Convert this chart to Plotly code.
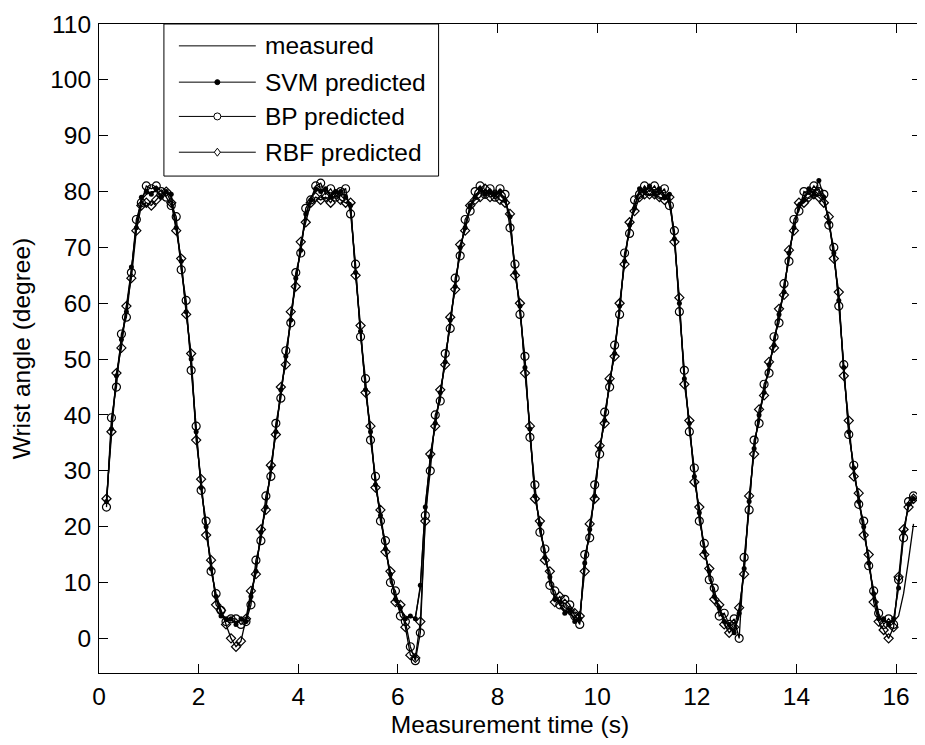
import plotly.graph_objects as go

# sampled wrist angle, one value every 0.1 s
time_s = [
    0.15, 0.25, 0.35, 0.45, 0.55, 0.65, 0.75, 0.85, 0.95, 1.05,
    1.15, 1.25, 1.35, 1.45, 1.55, 1.65, 1.75, 1.85, 1.95, 2.05,
    2.15, 2.25, 2.35, 2.45, 2.55, 2.65, 2.75, 2.85, 2.95, 3.05,
    3.15, 3.25, 3.35, 3.45, 3.55, 3.65, 3.75, 3.85, 3.95, 4.05,
    4.15, 4.25, 4.35, 4.45, 4.55, 4.65, 4.75, 4.85, 4.95, 5.05,
    5.15, 5.25, 5.35, 5.45, 5.55, 5.65, 5.75, 5.85, 5.95, 6.05,
    6.15, 6.25, 6.35, 6.45, 6.55, 6.65, 6.75, 6.85, 6.95, 7.05,
    7.15, 7.25, 7.35, 7.45, 7.55, 7.65, 7.75, 7.85, 7.95, 8.05,
    8.15, 8.25, 8.35, 8.45, 8.55, 8.65, 8.75, 8.85, 8.95, 9.05,
    9.15, 9.25, 9.35, 9.45, 9.55, 9.65, 9.75, 9.85, 9.95, 10.05,
    10.15, 10.25, 10.35, 10.45, 10.55, 10.65, 10.75, 10.85, 10.95, 11.05,
    11.15, 11.25, 11.35, 11.45, 11.55, 11.65, 11.75, 11.85, 11.95, 12.05,
    12.15, 12.25, 12.35, 12.45, 12.55, 12.65, 12.75, 12.85, 12.95, 13.05,
    13.15, 13.25, 13.35, 13.45, 13.55, 13.65, 13.75, 13.85, 13.95, 14.05,
    14.15, 14.25, 14.35, 14.45, 14.55, 14.65, 14.75, 14.85, 14.95, 15.05,
    15.15, 15.25, 15.35, 15.45, 15.55, 15.65, 15.75, 15.85, 15.95, 16.05,
    16.15, 16.25, 16.35,
]

measured = [
    24, 38, 46.5, 53, 59, 66, 74, 78.5, 79.5, 80,
    80, 79.5, 80, 79, 74, 67, 59, 49.5, 36.5, 27.5,
    19.5, 13, 7, 4.5, 3.5, 3.2, 3, 3.2, 3.5, 7,
    12.5, 18.5, 24, 30, 37.5, 44, 50, 57.5, 64, 70,
    75.5, 79, 80, 80.5, 80, 79.5, 80, 79.5, 79.5, 77,
    66, 54.5, 45, 36.5, 28, 21.5, 16.5, 11, 7.5, 5,
    4, 3.7, 3.8, 9, 24, 32, 39, 43.5, 50, 56.5,
    63.5, 69.5, 74, 77, 79.5, 80, 80, 79.5, 80, 79.5,
    79, 75, 66, 59, 49, 37, 26, 20, 15, 10.5,
    7.5, 6, 5, 4.5, 3.5, 3, 14, 19, 26, 33.5,
    39.5, 45.5, 51.5, 59, 68, 73.5, 77.5, 80, 80.5, 80.5,
    80, 80, 79.5, 79, 72, 59.5, 47, 38, 29.5, 22,
    16, 11.5, 8, 5, 3.5, 2, 1.5, 4, 13, 24,
    34.5, 39.5, 44.5, 48.5, 53, 57.5, 62.5, 68.5, 74, 77,
    79, 80, 80, 80.5, 78.5, 75, 68.5, 61, 48, 37.5,
    30, 25, 19.5, 14, 7.5, 4, 3, 3, 3, 4,
    8, 14, 20.5,
]

svm_pred = [
    24.5, 37.5, 47, 53.5, 58.5, 66.5, 73.5, 79, 80, 79.5,
    80.5, 79, 80, 79.5, 73.5, 67.5, 58.5, 50, 37, 27,
    20, 12.5, 7.5, 4, 3.5, 3.5, 2.5, 3.5, 3, 7.5,
    12, 19, 23.5, 30.5, 37, 44.5, 50.5, 57, 64.5, 69.5,
    76, 78.5, 80.5, 80, 80.5, 79, 80, 80, 79, 77.5,
    65.5, 55, 44.5, 37, 27.5, 22, 16, 11.5, 7, 5.5,
    3.5, 4, 3.5, 9.5, 23.5, 32.5, 38.5, 44, 49.5, 57,
    63, 70, 73.5, 77.5, 79, 80.5, 79.5, 80, 79.5, 80,
    78.5, 75.5, 65.5, 59.5, 48.5, 37.5, 25.5, 20.5, 14.5, 11,
    7, 6.5, 4.5, 5, 3, 3.5, 13.5, 19.5, 25.5, 34,
    39, 46, 51, 59.5, 67.5, 74, 77, 80.5, 80, 81,
    79.5, 80.5, 79, 79.5, 71.5, 60, 46.5, 38.5, 29, 22.5,
    15.5, 12, 7.5, 5.5, 3, 2.5, 1, 4.5, 12.5, 24.5,
    34, 40, 44, 49, 52.5, 58, 62, 69, 73.5, 77.5,
    78.5, 80.5, 79.5, 82, 79, 74.5, 69, 60.5, 48.5, 37,
    30.5, 24.5, 20, 13.5, 8, 3.5, 3.5, 2.5, 3.5, 9,
    19, 24, 25,
]

bp_pred = [
    23.5, 39.5, 45, 54.5, 57.5, 65.5, 75, 78, 81, 80.5,
    81, 80, 79, 77.5, 75.5, 66, 60.5, 48, 38, 26.5,
    21, 12, 8, 5, 3, 3.5, 3.5, 2.5, 3, 6,
    14, 17.5, 25.5, 29, 38.5, 43, 51.5, 56.5, 65.5, 69,
    77, 78.5, 81, 81.5, 79.5, 80.5, 79, 80, 80.5, 76,
    67, 54, 46.5, 35.5, 29, 21, 17.5, 10, 8.5, 4,
    3, -1.5, -4, 1, 22, 30, 40, 42.5, 51, 55.5,
    64.5, 68.5, 75, 76.5, 80, 81, 79.5, 80.5, 79, 80.5,
    79.5, 73.5, 67, 58, 50.5, 36, 27.5, 19, 16, 9.5,
    8.5, 6, 7, 6, 4, 2.5, 15, 18, 27.5, 33,
    40.5, 45, 52.5, 58, 69, 72.5, 78.5, 79.5, 81, 80,
    81, 79.5, 80.5, 77.5, 73, 58.5, 48, 37, 30.5, 21,
    17, 10.5, 9, 4, 4.5, 2.5, 3.5, 0, 14.5, 23,
    35.5, 38.5, 45.5, 47.5, 54, 56.5, 63.5, 67.5, 75, 76.5,
    80, 79.5, 81, 80, 79.5, 74, 70, 59.5, 49, 36.5,
    31, 24, 21, 13, 8.5, 4.5, 2.5, 3.5, 2.5, 10.5,
    18, 24.5, 25.5,
]

rbf_pred = [
    25, 37, 47.5, 52, 59.5, 64.5, 73, 77.5, 78, 77.5,
    78.5, 79.5, 80, 78, 73, 68, 58, 51, 35.5, 28.5,
    18.5, 14, 6, 5, 2.5, 0, -1.5, -0.5, 3.5, 8.5,
    11.5, 19.5, 23, 31, 36.5, 45, 49, 58.5, 63, 71,
    74.5, 78, 79, 78.5, 79, 78, 79.5, 78.5, 78, 78,
    65, 56, 44, 38, 27, 23, 15.5, 12, 6.5, 6,
    2, -3, -3.5, 3, 21, 33, 38, 44.5, 49, 57.5,
    62.5, 70.5, 73, 77.5, 78.5, 79, 80.5, 79, 79.5, 78.5,
    78, 76, 65, 60, 47.5, 38, 25, 21, 14, 12,
    6.5, 7.5, 5.5, 5, 4.5, 4, 12, 20.5, 25, 34.5,
    38.5, 46.5, 50.5, 60, 67, 74.5, 76.5, 79, 79.5, 79.5,
    79.5, 79, 78.5, 79, 71, 61, 45.5, 39, 28, 23.5,
    15, 12.5, 7, 6, 2.5, 1, 2, 5.5, 11.5, 25.5,
    33, 41, 43.5, 49.5, 52, 59, 61.5, 69.5, 73, 78,
    78, 79, 79.5, 79, 78, 75.5, 68, 62, 47, 39,
    29, 26, 18.5, 15, 6.5, 3, 1.5, 0, 2, 11,
    19.5, 23.5, 25,
]

x_ticks = [0, 2, 4, 6, 8, 10, 12, 14, 16]
y_ticks = [0, 10, 20, 30, 40, 50, 60, 70, 80, 90, 100, 110]

series_names = ["measured", "SVM predicted", "BP predicted", "RBF predicted"]

FONT = dict(family="Liberation Sans, Arial, sans-serif", size=24.5, color="black")

# the page body has an 8px margin, so the figure is drawn 8px smaller
PAGE_W, PAGE_H, OFF = 925, 745, 8
FIG_W, FIG_H = PAGE_W - OFF, PAGE_H - OFF

# plot area in page pixels
L, R, T, B = 99, 922, 20, 673
W, H = R - L, B - T


def px_x(p):
    return (p - L) / W


def px_y(p):
    return (B - p) / H


LINE = dict(color="black", width=1.3)

fig = go.Figure()

fig.add_trace(go.Scatter(x=time_s, y=measured, mode="lines", name=series_names[0], line=LINE))
fig.add_trace(go.Scatter(x=time_s, y=svm_pred, mode="lines+markers", name=series_names[1],
                         line=LINE, marker=dict(symbol="circle", size=5, color="black")))
fig.add_trace(go.Scatter(x=time_s, y=bp_pred, mode="lines+markers", name=series_names[2],
                         line=LINE,
                         marker=dict(symbol="circle-open", size=8, color="black",
                                     line=dict(width=1.2, color="black"))))
fig.add_trace(go.Scatter(x=time_s, y=rbf_pred, mode="lines+markers", name=series_names[3],
                         line=LINE,
                         marker=dict(symbol="diamond-open", size=7, color="black",
                                     line=dict(width=1.2, color="black"))))

# MATLAB-style legend box: long sample lines with the marker in the middle
shapes = [dict(type="rect", xref="paper", yref="paper",
               x0=px_x(164), x1=px_x(439), y0=px_y(173), y1=px_y(T),
               line=dict(color="black", width=1), fillcolor="white", layer="above")]
annotations = []
rows = [42, 78.5, 113, 149]
for i, (name, row) in enumerate(zip(series_names, rows)):
    yy = px_y(row)
    shapes.append(dict(type="line", xref="paper", yref="paper",
                       x0=px_x(179), x1=px_x(256), y0=yy, y1=yy,
                       line=dict(color="black", width=1), layer="above"))
    xm = px_x(217.5)
    if i == 1:
        shapes.append(dict(type="circle", xref="paper", yref="paper",
                           xsizemode="pixel", ysizemode="pixel", xanchor=xm, yanchor=yy,
                           x0=-2.5, x1=2.5, y0=-2.5, y1=2.5, fillcolor="black",
                           line=dict(color="black", width=1), layer="above"))
    elif i == 2:
        shapes.append(dict(type="circle", xref="paper", yref="paper",
                           xsizemode="pixel", ysizemode="pixel", xanchor=xm, yanchor=yy,
                           x0=-3.5, x1=3.5, y0=-3.5, y1=3.5, fillcolor="white",
                           line=dict(color="black", width=1), layer="above"))
    elif i == 3:
        shapes.append(dict(type="path", xref="paper", yref="paper",
                           xsizemode="pixel", ysizemode="pixel", xanchor=xm, yanchor=yy,
                           path="M0,-4 L3,0 L0,4 L-3,0 Z", fillcolor="white",
                           line=dict(color="black", width=1), layer="above"))
    annotations.append(dict(xref="paper", yref="paper", x=px_x(263), y=yy,
                            xanchor="left", yanchor="middle", showarrow=False,
                            text=name, font=FONT))

axis_common = dict(showline=True, linecolor="black", linewidth=1, mirror="ticks",
                   ticks="inside", ticklen=9, tickcolor="black", tickwidth=1,
                   showgrid=False, zeroline=False, tickfont=FONT,
                   ticklabeloverflow="allow")

fig.update_layout(
    width=FIG_W, height=FIG_H,
    margin=dict(l=L - OFF, r=PAGE_W - R, t=T - OFF, b=PAGE_H - B),
    paper_bgcolor="white", plot_bgcolor="white",
    showlegend=False,
    font=FONT,
    xaxis=dict(range=[0, 16.5], tickvals=x_ticks, ticklabelstandoff=2,
               title=dict(text="Measurement time (s)", font=FONT, standoff=6),
               **axis_common),
    yaxis=dict(range=[-6.2, 110], tickvals=y_ticks, ticklabelstandoff=2,
               title=dict(text="Wrist angle (degree)", font=FONT, standoff=15),
               **axis_common),
    shapes=shapes,
    annotations=annotations,
)

fig.write_html("out.html")
